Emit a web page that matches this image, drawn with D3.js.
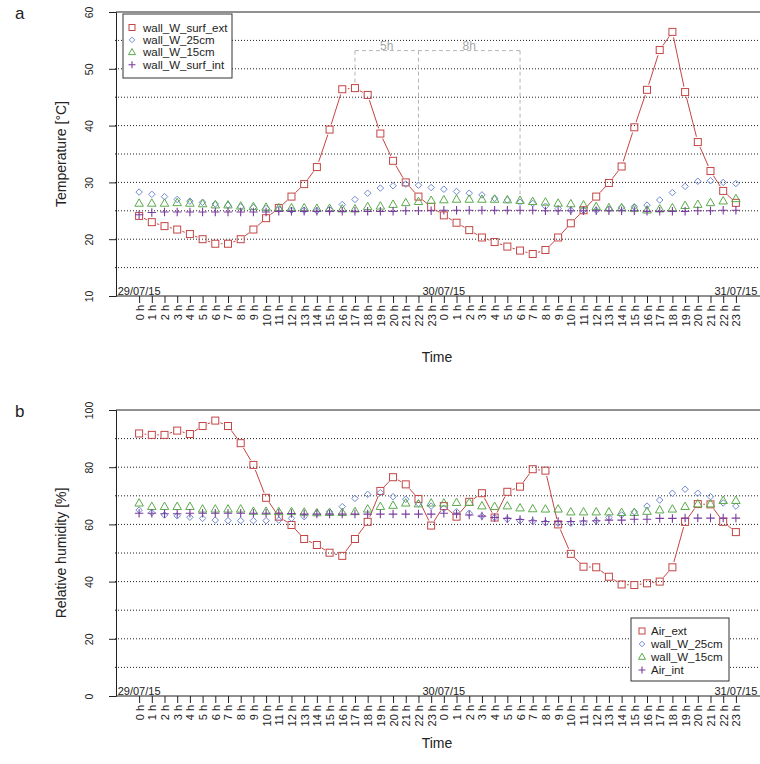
<!DOCTYPE html>
<html><head><meta charset="utf-8">
<script src="https://cdn.jsdelivr.net/npm/d3@7"></script>
<style>body{margin:0;background:#fff}svg{display:block}text{font-family:"Liberation Sans",Arial,sans-serif}</style>
</head><body><svg id="c" width="760" height="764"></svg>
<script>
const timeLabels = ["0 h","1 h","2 h","3 h","4 h","5 h","6 h","7 h","8 h","9 h","10 h","11 h","12 h","13 h","14 h","15 h","16 h","17 h","18 h","19 h","20 h","21 h","22 h","23 h",
"0 h","1 h","2 h","3 h","4 h","5 h","6 h","7 h","8 h","9 h","10 h","11 h","12 h","13 h","14 h","15 h","16 h","17 h","18 h","19 h","20 h","21 h","22 h","23 h"];
const dateLabels = ["29/07/15","30/07/15","31/07/15"];
const dateIndex = [0, 24, 47];

// Panel a: temperature
const tempNames = ["wall_W_surf_ext","wall_W_25cm","wall_W_15cm","wall_W_surf_int"];
const tSurfExt = [24.1,23.0,22.3,21.7,20.9,20.0,19.2,19.2,20.0,21.7,23.7,25.5,27.5,29.7,32.7,39.3,46.4,46.6,45.4,38.6,33.8,30.0,27.5,25.7,
24.2,22.9,21.6,20.3,19.5,18.7,18.0,17.4,18.1,20.3,22.8,25.1,27.5,29.9,32.8,39.7,46.3,53.3,56.5,45.9,37.1,32.0,28.5,26.4];
const t25cm = [28.3,27.9,27.5,27.0,26.7,26.5,26.2,26.0,25.7,25.6,25.4,25.3,25.1,25.1,25.0,25.2,26.1,27.0,28.1,29.0,29.4,29.7,29.5,29.1,
28.8,28.4,28.1,27.8,27.2,26.9,26.5,26.3,25.8,25.4,25.1,25.1,25.1,25.3,25.6,25.7,26.0,26.9,28.2,29.3,30.2,30.3,30.0,29.8];
const t15cm = [26.3,26.3,26.3,26.4,26.3,26.2,26.0,26.0,25.8,25.7,25.6,25.5,25.5,25.5,25.4,25.4,25.3,25.3,25.7,25.8,26.1,26.4,26.6,26.8,
26.9,27.0,27.0,27.0,27.0,26.9,26.8,26.6,26.5,26.3,26.2,26.0,25.7,25.5,25.5,25.4,25.1,25.3,25.5,25.9,26.1,26.4,26.7,27.1];
const tSurfInt = [24.3,24.7,24.8,24.8,24.8,24.8,24.8,24.8,24.8,24.8,24.8,24.9,24.9,24.9,24.9,24.9,24.9,24.9,24.9,24.9,24.9,25.0,25.0,25.0,
25.1,25.1,25.1,25.1,25.1,25.1,25.1,25.1,25.0,25.0,25.0,25.0,25.0,25.0,25.0,25.0,24.9,24.9,24.9,24.9,25.0,25.0,25.1,25.1];
const tempTicks = [10,20,30,40,50,60];
const tempGrid = [15,20,25,30,35,40,45,50,55];
// annotation brackets (hour index, temperature values)
const annFrom = [17, 22];
const annTo = [22, 30];
const annLabels = ["5h","8h"];
const annLevel = 53.2;
const annStemIdx = [17, 22, 30];
const annStemEnd = [47.0, 29.9, 27.2];

// Panel b: relative humidity
const rhNames = ["Air_ext","wall_W_25cm","wall_W_15cm","Air_int"];
const rAirExt = [91.8,91.3,91.3,92.8,91.6,94.4,96.3,94.4,88.4,80.8,69.3,62.7,59.8,54.9,52.8,50.1,49.0,54.9,60.9,71.7,76.5,74.0,68.9,59.6,
66.4,62.7,67.9,70.9,62.4,71.4,73.2,79.3,78.8,60.0,49.7,45.2,45.0,41.7,39.0,38.8,39.4,40.0,45.0,60.9,67.1,67.0,60.9,57.3];
const r25cm = [65.0,64.1,63.3,63.0,62.5,62.1,61.5,61.3,61.3,61.3,61.3,61.5,62.1,62.7,63.9,64.4,66.2,69.1,70.5,71.1,69.7,68.8,67.3,66.4,
65.6,64.4,63.9,62.9,62.4,61.8,61.3,61.0,60.6,60.4,60.4,60.6,61.2,62.4,63.3,64.4,66.4,68.5,70.9,72.3,70.9,69.7,67.5,66.4];
const r15cm = [67.4,66.2,66.2,66.2,66.2,65.3,65.3,65.3,65.3,64.5,64.5,64.4,64.4,64.2,64.0,64.1,64.1,64.4,65.3,66.2,66.6,67.4,67.1,67.4,
67.4,67.6,67.6,66.4,66.2,66.4,65.7,65.4,65.3,65.3,64.3,64.3,64.3,64.3,64.1,64.1,64.5,65.0,65.3,66.2,67.1,67.1,68.3,68.3];
const rAirInt = [63.9,63.9,63.7,63.7,63.9,63.9,63.9,63.9,63.9,63.9,63.9,63.9,63.8,63.6,63.6,63.6,63.6,63.6,63.6,63.6,63.6,63.6,63.6,63.6,
63.9,63.6,63.3,62.9,62.4,62.1,61.7,61.3,61.0,61.0,61.0,61.2,61.3,61.5,61.5,61.8,61.8,62.1,62.1,62.2,62.2,62.2,62.2,62.2];
const rhTicks = [0,20,40,60,80,100];
const rhGrid = [10,20,30,40,50,60,70,80,90];

const colors = ["#c44545","#7089d2","#5aab4a","#7a3c9e"];
const shapes = ["square","diamond","triangle","plus"];

const svg = d3.select("#c");
const x = d3.scaleLinear().domain([-1.82, 48.82]).range([116, 759]);

function marker(g, shape, cx, cy, s, color){
  if(shape==="square") g.append("rect").attr("x",cx-s/2).attr("y",cy-s/2).attr("width",s).attr("height",s).attr("fill","none").attr("stroke",color).attr("stroke-width",1);
  else if(shape==="diamond") g.append("path").attr("d",`M${cx},${cy-s/2}L${cx+s/2},${cy}L${cx},${cy+s/2}L${cx-s/2},${cy}Z`).attr("fill","none").attr("stroke",color).attr("stroke-width",1);
  else if(shape==="triangle"){const h=s*0.87; g.append("path").attr("d",`M${cx},${cy-h*0.62}L${cx+s/2},${cy+h*0.38}L${cx-s/2},${cy+h*0.38}Z`).attr("fill","none").attr("stroke",color).attr("stroke-width",1);}
  else g.append("path").attr("d",`M${cx-s/2},${cy}H${cx+s/2}M${cx},${cy-s/2}V${cy+s/2}`).attr("fill","none").attr("stroke",color).attr("stroke-width",1.1);
}
const msize = {square:7, diamond:6.5, triangle:8.5, plus:8.5};

function panel(o){
  const y = d3.scaleLinear().domain(o.domain).range([o.bottom, o.top]);
  const g = svg.append("g");
  // grid
  g.selectAll(null).data(o.grid).join("line").attr("x1",115).attr("x2",760)
    .attr("y1",d=>y(d)).attr("y2",d=>y(d)).attr("stroke","#222").attr("stroke-width",1).attr("stroke-dasharray","1,2");
  // box (right side falls outside the picture)
  g.append("line").attr("x1",116).attr("x2",760).attr("y1",o.top).attr("y2",o.top).attr("stroke","#222");
  g.append("line").attr("x1",116).attr("x2",760).attr("y1",o.bottom).attr("y2",o.bottom).attr("stroke","#222");
  // y axis
  const ya = g.append("g").attr("transform","translate(116,0)").call(d3.axisLeft(y).tickValues(o.ticks).tickSize(7).tickFormat(d3.format("d")));
  ya.select(".domain").attr("stroke","#222");
  ya.selectAll(".tick line").attr("stroke","#222");
  ya.selectAll(".tick text").attr("font-size",10.5).attr("fill","#222").attr("text-anchor","middle")
    .attr("x",0).attr("dy",0).attr("transform","translate(-23,0) rotate(-90)");
  // x axis
  const xa = g.append("g").attr("transform",`translate(0,${o.bottom})`)
    .call(d3.axisBottom(x).tickValues(d3.range(timeLabels.length)).tickSize(7).tickFormat(i=>timeLabels[i]));
  xa.select(".domain").remove();
  xa.selectAll(".tick line").attr("stroke","#222");
  xa.selectAll(".tick text").attr("font-size",11).attr("fill","#222").attr("text-anchor","end")
    .attr("y",0).attr("dy",0).attr("transform","translate(4,9) rotate(-90)");
  // date labels
  g.selectAll(null).data(dateLabels).join("text").attr("x",(d,i)=>x(dateIndex[i])).attr("y",o.bottom-1)
    .attr("text-anchor","middle").attr("font-size",11).attr("fill","#222").text(d=>d);
  // titles
  g.append("text").attr("transform",`translate(66,${(o.top+o.bottom)/2}) rotate(-90)`).attr("text-anchor","middle")
    .attr("font-size",14).attr("fill","#222").text(o.ylab);
  g.append("text").attr("x",437).attr("y",o.bottom+o.timeOff).attr("text-anchor","middle").attr("font-size",14).attr("fill","#222").text("Time");
  g.append("text").attr("x",15).attr("y",o.top+7).attr("font-size",17).attr("fill","#222").text(o.letter);
  // lines for first series (type "b")
  const s0 = o.series[0];
  const gap = 5.5;
  for(let i=0;i<s0.length-1;i++){
    const x1=x(i), y1=y(s0[i]), x2=x(i+1), y2=y(s0[i+1]);
    const L=Math.hypot(x2-x1,y2-y1);
    if(L>2*gap+0.5){
      const ux=(x2-x1)/L, uy=(y2-y1)/L;
      g.append("line").attr("x1",x1+ux*gap).attr("y1",y1+uy*gap).attr("x2",x2-ux*gap).attr("y2",y2-uy*gap)
        .attr("stroke",colors[0]).attr("stroke-width",1);
    }
  }
  o.series.forEach((s,k)=>{
    const gg=g.append("g");
    s.forEach((v,i)=>marker(gg,shapes[k],x(i),y(v),msize[shapes[k]],colors[k]));
  });
  // legend
  const L = o.legend;
  g.append("rect").attr("x",L.x).attr("y",L.y).attr("width",L.w).attr("height",L.h).attr("fill","#fff").attr("stroke","#333");
  o.names.forEach((n,k)=>{
    const cy = L.y+L.first+k*L.step;
    marker(g,shapes[k],L.x+L.sx,cy,k===0?6:(k===1?5.5:7),colors[k]);
    g.append("text").attr("x",L.x+L.tx).attr("y",cy+4).attr("font-size",11.5).attr("fill","#222").text(n);
  });
  return y;
}

const yT = panel({domain:[10,60], top:12, bottom:296, timeOff:66, grid:tempGrid, ticks:tempTicks, ylab:"Temperature [°C]", letter:"a",
  series:[tSurfExt,t25cm,t15cm,tSurfInt], names:tempNames,
  legend:{x:123,y:14,w:109,h:64,first:13.5,step:12.4,sx:9,tx:20}});
panel({domain:[0,100], top:410, bottom:696, timeOff:52, grid:rhGrid, ticks:rhTicks, ylab:"Relative humidity [%]", letter:"b",
  series:[rAirExt,r25cm,r15cm,rAirInt], names:rhNames,
  legend:{x:631,y:618,w:98,h:63,first:13,step:13,sx:11,tx:20}});

// annotation brackets
const ag = svg.append("g").attr("stroke","#b4b4b4").attr("stroke-dasharray","4,3").attr("fill","none");
ag.append("line").attr("x1",x(annFrom[0])).attr("x2",x(annTo[annTo.length-1])).attr("y1",yT(annLevel)).attr("y2",yT(annLevel));
annStemIdx.forEach((d,i)=>ag.append("line").attr("x1",x(d)).attr("x2",x(d)).attr("y1",yT(annLevel)).attr("y2",yT(annStemEnd[i])));
annLabels.forEach((l,i)=>svg.append("text").attr("x",(x(annFrom[i])+x(annTo[i]))/2).attr("y",yT(annLevel)-1)
  .attr("text-anchor","middle").attr("font-size",12).attr("font-family","'Liberation Serif',serif").attr("fill","#a8a8a8").text(l));
</script></body></html>
